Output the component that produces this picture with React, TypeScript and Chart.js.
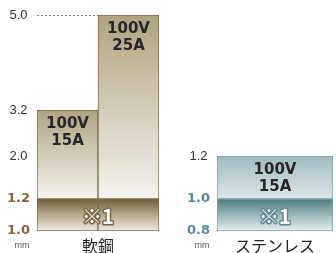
import React, { useEffect, useRef } from 'react';
import { Chart, registerables, LinearScale } from 'chart.js';

Chart.register(...registerables);

// ---------- data ----------
const steelCategories = ['15A', '25A'];
const steelBand = [[1.0, 1.2], [1.0, 1.2]];
const steelMain = [[1.2, 3.2], [1.2, 5.0]];
const steelBarText = [['100V', '15A'], ['100V', '25A']];
const steelTicks = [1.0, 1.2, 2.0, 3.2, 5.0];
const steelTickLabels = ['1.0', '1.2', '2.0', '3.2', '5.0'];
const steelBoldTicks = [1.0, 1.2];
const steelName = '軟鋼';

const stainlessCategories = ['15A'];
const stainlessBand = [[0.8, 1.0]];
const stainlessMain = [[1.0, 1.2]];
const stainlessBarText = [['100V', '15A']];
const stainlessTicks = [0.8, 1.0, 1.2];
const stainlessTickLabels = ['0.8', '1.0', '1.2'];
const stainlessBoldTicks = [0.8, 1.0];
const stainlessName = 'ステンレス';

const bandLabel = '※1';
const unitLabel = 'mm';

// ---------- piecewise linear scale ----------
function toFrac(v: number, b: number[], f: number[]) {
  if (v <= b[0]) return f[0];
  for (let i = 1; i < b.length; i++) {
    if (v <= b[i]) return f[i - 1] + ((v - b[i - 1]) / (b[i] - b[i - 1])) * (f[i] - f[i - 1]);
  }
  return f[f.length - 1];
}
function fromFrac(d: number, b: number[], f: number[]) {
  if (d <= f[0]) return b[0];
  for (let i = 1; i < f.length; i++) {
    if (d <= f[i]) return b[i - 1] + ((d - f[i - 1]) / (f[i] - f[i - 1])) * (b[i] - b[i - 1]);
  }
  return b[b.length - 1];
}

class PiecewiseScale extends LinearScale {
  static id = 'piecewise';
  static defaults = {};
  getPixelForValue(value: number) {
    const o: any = this.options;
    return this.getPixelForDecimal(toFrac(value, o.breaks, o.fractions));
  }
  getValueForPixel(pixel: number) {
    const o: any = this.options;
    return fromFrac(this.getDecimalForPixel(pixel), o.breaks, o.fractions);
  }
}
Chart.register(PiecewiseScale as any);

const FRACTIONS = [0, 0.148, 0.347, 0.56, 1];

type Theme = {
  mainTop: string; mainBottom: string;
  bandTop: string; bandMid: string; bandBottom: string;
  border: string; boldTick: string; bandStroke: string;
};

const steelTheme: Theme = {
  mainTop: '#afa480', mainBottom: '#f5f3ee',
  bandTop: '#6f5e3c', bandMid: '#b0a482', bandBottom: '#efebe1',
  border: '#7b6a4c', boldTick: '#7a6843', bandStroke: '#7b6a4c',
};
const stainlessTheme: Theme = {
  mainTop: '#9fbbbf', mainBottom: '#dce7e8',
  bandTop: '#4f7a7f', bandMid: '#93b2b5', bandBottom: '#e6efef',
  border: '#7a9ea2', boldTick: '#5a8a90', bandStroke: '#5f8a8f',
};

type Spec = {
  categories: string[]; band: number[][]; main: number[][]; barText: string[][];
  ticks: number[]; tickLabels: string[]; boldTicks: number[]; name: string;
  breaks: number[]; theme: Theme; axisWidth: number; padRight: number; dotted: boolean;
};

function gradientFor(ctx: any, stops: [number, string][]) {
  const chart = ctx.chart;
  const y = chart.scales?.y;
  const raw = ctx.raw as number[];
  if (!chart.chartArea || !y || !raw) return stops[0][1];
  const y0 = y.getPixelForValue(Math.max(raw[0], raw[1]));
  const y1 = y.getPixelForValue(Math.min(raw[0], raw[1]));
  const g = chart.ctx.createLinearGradient(0, y0, 0, y1);
  stops.forEach(([o, c]) => g.addColorStop(o, c));
  return g;
}

function makeChart(canvas: HTMLCanvasElement, s: Spec) {
  const t = s.theme;
  const overlay = {
    id: 'overlay',
    afterDatasetsDraw(chart: any) {
      const c = chart.ctx as CanvasRenderingContext2D;
      const area = chart.chartArea;
      const bandMeta = chart.getDatasetMeta(0).data;
      const mainMeta = chart.getDatasetMeta(1).data;
      c.save();
      // bar texts
      c.fillStyle = '#262626';
      c.textAlign = 'center';
      c.textBaseline = 'middle';
      c.font = 'bold 15px "DejaVu Sans", sans-serif';
      mainMeta.forEach((el: any, i: number) => {
        const lines = s.barText[i];
        lines.forEach((ln, j) => c.fillText(ln, el.x, el.y + 14 + j * 17));
      });
      // band label
      const first: any = bandMeta[0];
      const last: any = bandMeta[bandMeta.length - 1];
      const cx = (first.x - first.width / 2 + last.x + last.width / 2) / 2;
      const cy = (first.y + first.base) / 2 + 1;
      c.font = 'bold 20px "Noto Sans CJK JP", sans-serif';
      c.lineJoin = 'round';
      c.lineWidth = 3;
      c.strokeStyle = t.bandStroke;
      c.strokeText(bandLabel, cx, cy);
      c.fillStyle = '#ffffff';
      c.fillText(bandLabel, cx, cy);
      // category name
      c.fillStyle = '#222222';
      c.font = '16px "Noto Sans CJK JP", sans-serif';
      c.fillText(s.name, cx, area.bottom + 15);
      // unit
      c.fillStyle = '#555555';
      c.font = '9px "Liberation Sans", Arial, sans-serif';
      c.fillText(unitLabel, area.left - 15, area.bottom + 15);
      // dotted guide
      if (s.dotted) {
        const el: any = mainMeta[mainMeta.length - 1];
        const yy = Math.round(el.y) + 0.5;
        c.strokeStyle = '#777777';
        c.lineWidth = 1;
        c.setLineDash([2, 2]);
        c.beginPath();
        c.moveTo(area.left, yy);
        c.lineTo(el.x - el.width / 2, yy);
        c.stroke();
      }
      c.restore();
    },
  };

  return new Chart(canvas, {
    type: 'bar',
    data: {
      labels: s.categories,
      datasets: [
        {
          data: s.band as any,
          backgroundColor: (ctx: any) =>
            gradientFor(ctx, [[0, t.bandTop], [0.45, t.bandMid], [1, t.bandBottom]]),
          borderColor: t.border,
          borderWidth: 1,
          borderSkipped: false,
          grouped: false,
          barPercentage: 1,
          categoryPercentage: 1,
        } as any,
        {
          data: s.main as any,
          backgroundColor: (ctx: any) =>
            gradientFor(ctx, [[0, t.mainTop], [1, t.mainBottom]]),
          borderColor: t.border,
          borderWidth: 1,
          borderSkipped: false,
          grouped: false,
          barPercentage: 1,
          categoryPercentage: 1,
        } as any,
      ],
    },
    options: {
      animation: false,
      responsive: false,
      devicePixelRatio: 1,
      layout: { padding: { top: 15, bottom: 22, right: s.padRight, left: 0 } },
      plugins: { legend: { display: false }, tooltip: { enabled: false } },
      scales: {
        x: { display: false },
        y: {
          type: 'piecewise',
          breaks: s.breaks,
          fractions: FRACTIONS,
          min: s.breaks[0],
          max: s.breaks[s.breaks.length - 1],
          grid: { display: false, drawTicks: false, tickLength: 0 },
          border: { display: false },
          afterBuildTicks: (sc: any) => {
            sc.ticks = s.ticks.map((v) => ({ value: v }));
          },
          afterFit: (sc: any) => {
            sc.width = s.axisWidth;
          },
          ticks: {
            padding: 7,
            crossAlign: 'center',
            callback: (_v: any, i: number) => s.tickLabels[i],
            color: (ctx: any) =>
              ctx.tick && s.boldTicks.includes(ctx.tick.value) ? t.boldTick : '#333333',
            font: (ctx: any) =>
              ctx.tick && s.boldTicks.includes(ctx.tick.value)
                ? { family: '"DejaVu Sans", sans-serif', size: 13, weight: 'bold' }
                : { family: '"Liberation Sans", Arial, sans-serif', size: 13, weight: 'normal' },
          },
        } as any,
      },
    } as any,
    plugins: [overlay],
  });
}

function Panel({ spec, width, left }: { spec: Spec; width: number; left: number }) {
  const ref = useRef<HTMLCanvasElement>(null);
  useEffect(() => {
    if (!ref.current) return;
    const ch = makeChart(ref.current, spec);
    return () => ch.destroy();
  }, []);
  return (
    <canvas
      ref={ref}
      width={width}
      height={253}
      style={{ position: 'absolute', left, top: 0, width, height: 253 }}
    />
  );
}

const steelSpec: Spec = {
  categories: steelCategories, band: steelBand, main: steelMain, barText: steelBarText,
  ticks: steelTicks, tickLabels: steelTickLabels, boldTicks: steelBoldTicks, name: steelName,
  breaks: [1.0, 1.2, 2.0, 3.2, 5.0], theme: steelTheme, axisWidth: 37, padRight: 11, dotted: true,
};
const stainlessSpec: Spec = {
  categories: stainlessCategories, band: stainlessBand, main: stainlessMain, barText: stainlessBarText,
  ticks: stainlessTicks, tickLabels: stainlessTickLabels, boldTicks: stainlessBoldTicks, name: stainlessName,
  breaks: [0.8, 1.0, 1.2, 1.6, 2.0], theme: stainlessTheme, axisWidth: 47, padRight: 3, dotted: false,
};

export default function App() {
  return (
    <div style={{ position: 'fixed', left: 0, top: 0, width: 336, height: 253, background: '#ffffff', overflow: 'hidden' }}>
      <Panel spec={steelSpec} width={170} left={0} />
      <Panel spec={stainlessSpec} width={166} left={170} />
    </div>
  );
}
